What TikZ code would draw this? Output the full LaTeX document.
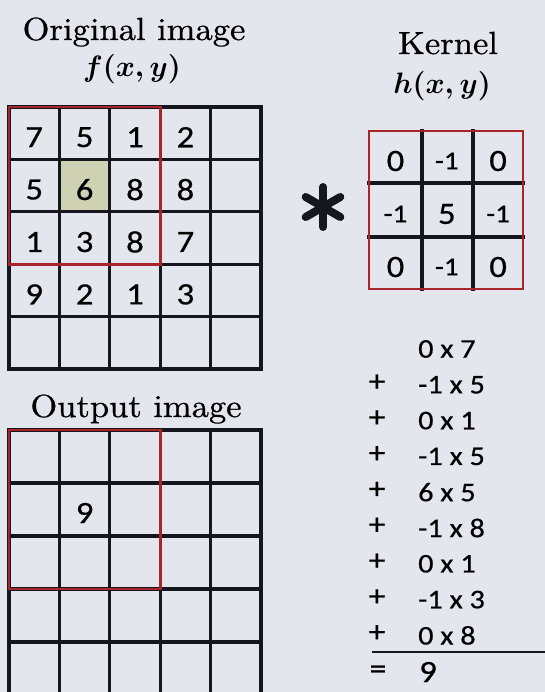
\documentclass[tikz,border=0pt]{standalone}
\usepackage{fontspec}
\newfontfamily\cellfont{Carlito}[FakeStretch=1.12,FakeBold=0.6]
\newfontfamily\titlefont{lmroman10-regular}[Extension=.otf,FakeStretch=1.08,FakeBold=0.8]
\definecolor{paper}{RGB}{227,230,237}
\definecolor{gridred}{RGB}{168,38,42}
\definecolor{ink}{RGB}{22,22,30}
\definecolor{focus}{RGB}{206,210,178}
\newcommand\minusone{{\fontsize{26}{30}\selectfont -1}}
\newcommand\bigfn[1]{\scalebox{2.9}[2.95]{\boldmath$#1$}}
\tikzset{
  grid line/.style={ink, line width=3.2, line cap=rect},
  window/.style={gridred, line width=2.6, line cap=rect},
  title/.style={font=\titlefont\fontsize{32}{38}\selectfont, anchor=base},
  cellnum/.style={font=\cellfont\fontsize{31}{36}\selectfont, inner sep=0},
  sumterm/.style={font=\cellfont\fontsize{27}{30}\selectfont, inner sep=0},
  sumsign/.style={font=\cellfont\fontsize{30}{32}\selectfont, inner sep=0},
}

\begin{document}
\begin{tikzpicture}[x=1pt,y=-1pt]
\fill[paper] (0,0) rectangle (545,692);
\useasboundingbox (0,0) rectangle (545,692);

% original image f(x,y)
\node[title] (origT) at (134,40) {Original image};
\node[anchor=base] (origF) at (132,77) {\bigfn{f(x,y)}};
\fill[focus] (59.4,159.4) rectangle (109.8,211.8);
\foreach \i in {0,...,5} {
  \draw[grid line] (9+50.4*\i,107) -- (9+50.4*\i,369);
  \draw[grid line] (9,107+52.4*\i) -- (261,107+52.4*\i);
}
\draw[window] (9,107) rectangle (160.2,264.2);
\foreach \row [count=\r from 0] in {{7,5,1,2},{5,6,8,8},{1,3,8,7},{9,2,1,3}}
  \foreach \v [count=\c from 0] in \row
    \node[cellnum] (f-\r-\c) at (34.2+50.4*\c,137.2+52.4*\r) {\v};

% kernel h(x,y)
\node[title] (kerT) at (448,54) {Kernel};
\node[anchor=base] (kerH) at (442,94) {\bigfn{h(x,y)}};
\draw[grid line] (422,131) -- (422,289) (473,131) -- (473,289)
  (369,183) -- (523,183) (369,237) -- (523,237);
\draw[window] (369,131) rectangle (523,289);
\foreach \row [count=\r from 0] in {{0,\minusone,0},{\minusone,5,\minusone},{0,\minusone,0}}
  \foreach \v [count=\c from 0] in \row
    \node[cellnum] (h-\r-\c) at (395.5+51.3*\c,161+53*\r) {\v};

% convolution sign
\foreach \a in {90,30,-30}
  \draw[ink, line width=8, line cap=round] (323,207) ++(\a:20) -- ++(\a+180:40);

% output image
\node[title] (outT) at (136,417) {Output image};
\foreach \i in {0,...,5} {
  \draw[grid line] (9+50.4*\i,430) -- (9+50.4*\i,700);
}
\foreach \i in {0,...,4} {
  \draw[grid line] (9,430+53*\i) -- (261,430+53*\i);
}
\draw[window] (9,430) rectangle (160.2,589);
\node[cellnum] (g-1-1) at (84.6,513) {9};

% weighted sum
\foreach \t [count=\k from 0] in {0 x 7,-1 x 5,0 x 1,-1 x 5,6 x 5,-1 x 8,0 x 1,-1 x 3,0 x 8}
  \node[sumterm, anchor=west] (t-\k) at (418,349+35.8*\k) {\t};
\foreach \k in {1,...,8}
  \node[sumsign] (p-\k) at (377,347+35.8*\k) {+};
\coordinate (ruleL) at (372,652);
\coordinate (ruleR) at (545,652);
\draw[ink, line width=2.2] (ruleL) -- (ruleR);
\node[sumsign] (eq) at (378,672) {=};
\node[sumterm, font=\cellfont\fontsize{31}{34}\selectfont, anchor=west] (res) at (419,672) {9};
\end{tikzpicture}
\end{document}
